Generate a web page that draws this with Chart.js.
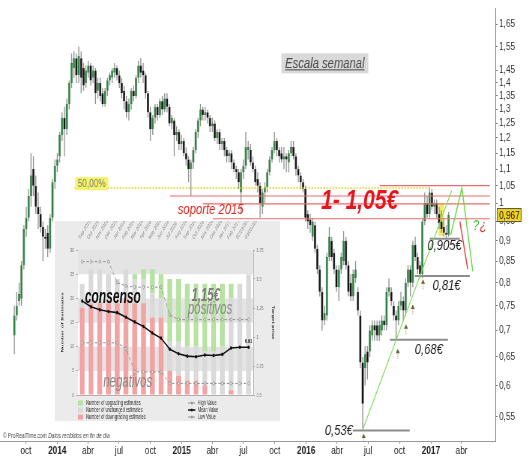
<!DOCTYPE html>
<html>
<head>
<meta charset="utf-8">
<script src="https://cdn.jsdelivr.net/npm/chart.js@4.4.1/dist/chart.umd.min.js"></script>
<style>
  html, body { margin: 0; padding: 0; background: #fff; }
  #wrap { position: relative; width: 532px; height: 457px; overflow: hidden; }
  /* la captura original esta comprimida en horizontal */
  #mainBox { position: absolute; left: 0; top: 0; width: 710px; height: 457px; transform: scaleX(0.7493); transform-origin: 0 0; }
  #insetBox { position: absolute; left: 55px; top: 221px; width: 375px; height: 200px; transform: scaleX(0.6); transform-origin: 0 0; }
</style>
</head>
<body>
<div id="wrap">
  <div id="mainBox"><canvas id="main" width="710" height="457"></canvas></div>
  <div id="insetBox"><canvas id="inset" width="375" height="200"></canvas></div>
</div>
<script>
const FONT = 'Arial, "Liberation Sans", Helvetica, sans-serif';
Chart.defaults.font.family = FONT;

// velas semanales (primera semana = lunes 26/08/2013)
const firstWeek = '2013-08-26';
const openP = [
  .69,.73,.76,.765,.84,.93,.96,1.02,1.10,1.05,
  .99,.97,.935,.91,.92,.88,.96,1.06,1.11,1.14,
  1.21,1.27,1.23,1.32,1.40,1.46,1.50,1.43,1.50,1.46,
  1.40,1.44,1.47,1.42,1.45,1.37,1.40,1.36,1.32,1.37,
  1.41,1.42,1.44,1.46,1.43,1.40,1.37,1.33,1.29,1.32,
  1.37,1.35,1.42,1.47,1.45,1.43,1.36,1.29,1.23,1.27,
  1.31,1.28,1.33,1.30,1.34,1.31,1.25,1.26,1.21,1.22,
  1.18,1.19,1.15,1.13,1.10,1.12,1.16,1.22,1.26,1.30,
  1.28,1.29,1.27,1.24,1.25,1.20,1.22,1.18,1.19,1.16,
  1.14,1.15,1.12,1.10,1.09,1.03,1.09,1.11,1.16,1.16,
  1.12,1.10,1.07,1.05,.99,1.03,1.045,1.09,1.13,1.16,
  1.19,1.16,1.15,1.13,1.14,1.12,1.15,1.17,1.14,1.10,
  1.08,1.06,1.04,.97,.955,.91,.94,.88,.83,.78,
  .72,.73,.86,.90,.87,.83,.79,.83,.85,.90,
  .84,.80,.77,.81,.78,.73,.64,.63,.66,.66,
  .69,.71,.71,.69,.70,.72,.71,.78,.78,.75,
  .73,.72,.75,.76,.74,.80,.83,.80,.89,.86,
  .84,.82,.95,1.00,.97,1.03,.99,1.00,.97,.95,
  .935,.92,.915
];
const highP = [
  .75,.78,.80,.85,.94,.99,1.04,1.15,1.14,1.08,
  1.03,.99,.95,.93,.94,.97,1.07,1.13,1.15,1.22,
  1.29,1.31,1.34,1.41,1.52,1.53,1.52,1.55,1.53,1.48,
  1.47,1.49,1.48,1.47,1.46,1.42,1.42,1.38,1.38,1.42,
  1.44,1.46,1.48,1.47,1.45,1.42,1.39,1.35,1.34,1.38,
  1.39,1.43,1.49,1.50,1.48,1.44,1.37,1.31,1.28,1.32,
  1.32,1.34,1.35,1.36,1.36,1.32,1.28,1.27,1.24,1.23,
  1.21,1.20,1.17,1.14,1.13,1.17,1.23,1.27,1.32,1.31,
  1.31,1.30,1.28,1.27,1.26,1.23,1.23,1.20,1.20,1.17,
  1.16,1.16,1.13,1.11,1.10,1.10,1.13,1.22,1.19,1.18,
  1.14,1.11,1.09,1.06,1.04,1.06,1.10,1.14,1.17,1.22,
  1.20,1.17,1.17,1.17,1.15,1.16,1.19,1.19,1.15,1.11,
  1.09,1.07,1.05,.98,.97,.96,.95,.89,.84,.79,
  .75,.87,.935,.91,.88,.84,.84,.87,.925,.91,
  .85,.82,.83,.85,.79,.74,.65,.67,.67,.71,
  .72,.72,.72,.72,.73,.73,.79,.81,.79,.76,
  .74,.76,.78,.77,.81,.84,.84,.90,.91,.87,
  .85,.96,1.03,1.02,1.045,1.04,1.01,1.01,.99,.98,
  .96,.94,.975
];
const lowP = [
  .655,.72,.75,.75,.83,.91,.95,.99,1.02,.97,
  .93,.92,.85,.88,.86,.87,.95,1.04,1.09,1.12,
  1.19,1.14,1.21,1.30,1.38,1.42,1.40,1.40,1.36,1.37,
  1.38,1.42,1.39,1.40,1.32,1.34,1.33,1.31,1.31,1.35,
  1.39,1.40,1.42,1.41,1.38,1.34,1.30,1.27,1.26,1.30,
  1.33,1.34,1.40,1.42,1.40,1.34,1.27,1.19,1.21,1.25,
  1.26,1.27,1.28,1.29,1.29,1.24,1.23,1.14,1.19,1.16,
  1.16,1.14,1.11,1.06,1.02,1.10,1.15,1.20,1.24,1.26,
  1.26,1.25,1.22,1.22,1.19,1.18,1.16,1.16,1.14,1.12,
  1.12,1.10,1.09,1.07,1.04,.97,1.07,1.10,1.13,1.11,
  1.09,1.05,1.03,.96,.97,1.00,1.03,1.08,1.12,1.15,
  1.14,1.12,1.12,1.10,1.09,1.09,1.14,1.13,1.08,1.06,
  1.04,1.03,.95,.93,.92,.90,.87,.82,.77,.70,
  .71,.72,.85,.85,.82,.78,.76,.82,.84,.83,
  .77,.76,.76,.80,.73,.63,.53,.60,.61,.65,
  .68,.68,.68,.68,.69,.70,.70,.77,.75,.72,
  .68,.71,.74,.72,.73,.79,.77,.79,.85,.82,
  .81,.81,.94,.96,.96,.98,.97,.96,.93,.92,
  .91,.905,.91
];
const closeP = [
  .73,.75,.775,.84,.93,.96,1.02,1.08,1.05,.99,
  .97,.935,.91,.905,.88,.96,1.06,1.11,1.13,1.21,
  1.27,1.23,1.32,1.40,1.48,1.50,1.43,1.51,1.42,1.39,
  1.45,1.47,1.41,1.45,1.36,1.40,1.35,1.32,1.37,1.41,
  1.43,1.45,1.46,1.43,1.40,1.36,1.33,1.29,1.32,1.37,
  1.35,1.42,1.47,1.44,1.43,1.36,1.29,1.23,1.27,1.31,
  1.28,1.33,1.30,1.34,1.31,1.25,1.27,1.21,1.22,1.18,
  1.19,1.15,1.13,1.10,1.12,1.16,1.22,1.26,1.30,1.28,
  1.29,1.27,1.24,1.25,1.20,1.22,1.18,1.19,1.16,1.14,
  1.15,1.12,1.10,1.09,1.06,1.09,1.11,1.17,1.17,1.12,
  1.10,1.06,1.05,1.00,1.03,1.045,1.09,1.13,1.16,1.19,
  1.16,1.14,1.13,1.14,1.13,1.15,1.17,1.14,1.10,1.08,
  1.06,1.04,.96,.95,.94,.95,.88,.83,.78,.72,
  .735,.86,.91,.86,.83,.79,.83,.86,.90,.84,
  .78,.77,.82,.83,.74,.64,.57,.655,.64,.70,
  .71,.70,.69,.71,.72,.71,.78,.79,.76,.73,
  .72,.75,.76,.74,.80,.83,.80,.89,.86,.83,
  .82,.95,1.00,.97,1.03,.99,1.00,.97,.945,.93,
  .92,.915,.967
];

// ejes del grafico principal
const yTicks = [1.65, 1.55, 1.45, 1.4, 1.35, 1.3, 1.25, 1.2, 1.15, 1.1, 1.05, 1, 0.95, 0.9, 0.85, 0.8, 0.75, 0.7, 0.65, 0.6, 0.55];
const xTickDates = ['2013-10-01', '2014-01-01', '2014-04-01', '2014-07-01', '2014-10-01', '2015-01-01', '2015-04-01', '2015-07-01',
  '2015-10-01', '2016-01-01', '2016-04-01', '2016-07-01', '2016-10-01', '2017-01-01', '2017-04-01'];
const xTickLabels = ['oct', '2014', 'abr', 'jul', 'oct', '2015', 'abr', 'jul', 'oct', '2016', 'abr', 'jul', 'oct', '2017', 'abr'];

// recuadro: estimaciones de analistas
const estMonths = ['Sep 2015', 'Oct 2015', 'Nov 2015', 'Dec 2015', 'Jan 2016', 'Feb 2016', 'Mar 2016', 'Apr 2016', 'May 2016', 'Jun 2016',
  'Jul 2016', 'Aug 2016', 'Sep 2016', 'Oct 2016', 'Nov 2016', 'Dec 2016', 'Jan 2017', 'Feb 2017', '02/23/2017', '03/03/2017'];
const downEst = [18, 19, 19, 19, 19, 20, 19, 19, 16, 16, 5, 4, 3, 3, 2, 0, 0, 1, 0, 0];
const unchEst = [5, 7, 7, 6, 5, 6, 5, 5, 5, 4, 6, 7, 7, 7, 7, 9, 10, 19, 23, 25];
const upEst = [0, 0, 0, 0, 0, 0, 1, 2, 5, 5, 13, 13, 13, 13, 14, 14, 13, 3, 0, 0];
const highTP = [1.65, 1.65, 1.65, 1.65, 1.47, 1.44, 1.43, 1.43, 1.43, 1.43, 1.19, 1.15, 1.15, 1.15, 1.15, 1.15, 1.15, 1.15, 1.15, 1.15];
const meanTP = [1.31, 1.26, 1.235, 1.22, 1.21, 1.17, 1.13, 1.09, 1.035, 0.99, 0.895, 0.855, 0.835, 0.83, 0.845, 0.84, 0.85, 0.905, 0.912, 0.912];
const lowTP = [0.95, 0.95, 0.95, 0.95, 0.95, 0.9, 0.7, 0.7, 0.7, 0.7, 0.6, 0.6, 0.6, 0.6, 0.6, 0.6, 0.6, 0.6, 0.6, 0.6];

const base = Date.UTC(2013, 6, 1);
const toDay = s => (Date.parse(s) - base) / 864e5;

// anotaciones dibujadas sobre el grafico (coordenadas fecha / precio)
const notes = {
  fib: { from: '2014-02-21', to: '2016-12-29', price: 1.043, label: '50,00%', date: '2014-04-12', at: 1.056 },
  red: [
    { from: '2016-08-04', price: 1.05 },
    { from: '2014-11-27', price: 1.02 },
    { from: '2015-03-04', price: 0.998 },
    { from: '2015-04-02', price: 0.957 }
  ],
  redEnd: '2017-06-23',
  levels: [
    { from: '2016-12-29', to: '2017-03-27', price: 0.905, text: '0,905€', date: '2017-02-10', at: 0.888 },
    { from: '2016-11-15', to: '2017-04-25', price: 0.815, text: '0,81€', date: '2017-02-16', at: 0.794 },
    { from: '2016-09-03', to: '2017-02-20', price: 0.682, text: '0,68€', date: '2016-12-26', at: 0.663 },
    { from: '2016-05-17', to: '2016-10-31', price: 0.529, text: '0,53€', date: '2016-04-06', at: 0.529 }
  ],
  trend: [['2016-06-15', 0.53], ['2017-03-03', 1.035]],
  upPath: [['2017-02-28', 0.914], ['2017-04-02', 1.043], ['2017-05-04', 0.826]],
  downPath: [['2017-03-27', 0.95], ['2017-04-19', 0.831]],
  arrows: [['2016-06-18', 0.5246], ['2016-09-26', 0.665], ['2016-10-20', 0.712], ['2016-11-09', 0.753], ['2016-12-09', 0.808]],
  box: { from: '2017-01-24', to: '2017-02-08', top: 0.998, bottom: 0.912 },
  title: { text: 'Escala semanal', date: '2016-02-25', at: 1.479 },
  support: { text: 'soporte 2015', date: '2015-03-27', at: 0.98 },
  zone: { text: '1- 1,05€', date: '2016-06-06', at: 1.005 },
  doubt: { date: '2017-05-04', at: 0.937 },
  last: 0.967
};

const day0 = toDay(firstWeek) + 2;
const candleX = closeP.map((c, i) => day0 + 7 * i);

const notesPlugin = {
  id: 'notes',
  beforeDatasetsDraw(chart) {
    const { ctx, scales: { x, y } } = chart;
    const b = notes.box;
    const x1 = x.getPixelForValue(toDay(b.from)), x2 = x.getPixelForValue(toDay(b.to));
    const y1 = y.getPixelForValue(b.top), y2 = y.getPixelForValue(b.bottom);
    ctx.save();
    ctx.fillStyle = '#f3ea5f';
    ctx.fillRect(x1, y1, x2 - x1, y2 - y1);
    ctx.restore();
  },
  afterDatasetsDraw(chart) {
    const { ctx, chartArea: area, scales: { x, y } } = chart;
    const X = d => x.getPixelForValue(toDay(d));
    const Y = v => y.getPixelForValue(v);
    const path = (pts, color, width, dash) => {
      ctx.beginPath();
      pts.forEach(([d, v], i) => i ? ctx.lineTo(X(d), Y(v)) : ctx.moveTo(X(d), Y(v)));
      ctx.strokeStyle = color;
      ctx.lineWidth = width;
      ctx.setLineDash(dash || []);
      ctx.stroke();
      ctx.setLineDash([]);
    };
    const text = (s, d, v, font, color, align) => {
      ctx.font = font + ' ' + FONT;
      ctx.fillStyle = color;
      ctx.textAlign = align || 'center';
      ctx.textBaseline = 'middle';
      ctx.fillText(s, X(d), Y(v));
    };

    ctx.save();
    ctx.beginPath();
    ctx.rect(area.left, area.top, area.width, area.height);
    ctx.clip();

    // lineas horizontales
    path([[notes.fib.from, notes.fib.price], [notes.fib.to, notes.fib.price]], '#e0d400', 1.6, [2, 2]);
    notes.red.forEach(r => path([[r.from, r.price], [notes.redEnd, r.price]], '#ee6b6b', 1.2));
    notes.levels.forEach(l => path([[l.from, l.price], [l.to, l.price]], '#8c8c8c', 2));

    // directriz y escenarios
    path(notes.trend, '#7ddf5a', 1.2);
    path(notes.upPath, '#66d847', 1.4);
    path(notes.downPath, '#e43b3b', 1.4);

    // flechas de apoyo
    notes.arrows.forEach(([d, v]) => {
      const ax = X(d), ay = Y(v);
      ctx.setLineDash([1, 1]);
      ctx.strokeStyle = '#8e8e66';
      ctx.lineWidth = 1;
      ctx.beginPath(); ctx.moveTo(ax, ay + 3); ctx.lineTo(ax, ay + 11); ctx.stroke();
      ctx.setLineDash([]);
      ctx.fillStyle = '#66642c';
      ctx.beginPath(); ctx.moveTo(ax, ay); ctx.lineTo(ax - 2.6, ay + 4.5); ctx.lineTo(ax + 2.6, ay + 4.5); ctx.closePath(); ctx.fill();
    });

    // etiqueta 50 %
    const fx = X(notes.fib.date), fy = Y(notes.fib.at);
    ctx.fillStyle = '#f5f36a';
    ctx.fillRect(fx - 22, fy - 6.5, 44, 13);
    text(notes.fib.label, notes.fib.date, notes.fib.at, '11px', '#7c7c7c');

    // titulo
    const tx = X(notes.title.date), ty = Y(notes.title.at);
    ctx.fillStyle = '#d9d9d9';
    ctx.fillRect(tx - 58, ty - 10, 116, 20);
    text(notes.title.text, notes.title.date, notes.title.at, 'italic 15px', '#4a4a4a');
    const tw = ctx.measureText(notes.title.text).width;
    ctx.fillRect(tx - tw / 2, ty + 6, tw, 1);

    text(notes.support.text, notes.support.date, notes.support.at, 'italic 15px', '#e0261e');
    text(notes.zone.text, notes.zone.date, notes.zone.at, 'italic bold 28px', '#e8141c');
    notes.levels.forEach(l => text(l.text, l.date, l.at, 'italic 15px', '#222'));

    text('?', notes.doubt.date, notes.doubt.at, 'italic 15px', '#3fbf3f', 'left');
    const qw = ctx.measureText('?').width;
    ctx.fillStyle = '#e03a3a';
    ctx.fillText('¿', X(notes.doubt.date) + qw + 1, Y(notes.doubt.at));

    // copyright
    ctx.textAlign = 'left';
    ctx.textBaseline = 'alphabetic';
    ctx.fillStyle = '#444';
    ctx.font = '6.5px ' + FONT;
    const c1 = '© ProRealTime.com ';
    ctx.fillText(c1, area.left + 4, area.bottom - 3);
    const cw = ctx.measureText(c1).width;
    ctx.font = 'italic 6.5px ' + FONT;
    ctx.fillText('Datos recibidos en fin de día', area.left + 4 + cw, area.bottom - 3);
    ctx.restore();
  },
  afterDraw(chart) {
    const { ctx, chartArea: area, scales: { y } } = chart;
    const py = y.getPixelForValue(notes.last);
    ctx.save();
    ctx.fillStyle = '#f2d41c';
    ctx.fillRect(area.right + 2, py - 7, 33, 14);
    ctx.strokeStyle = '#555';
    ctx.lineWidth = 1;
    ctx.strokeRect(area.right + 2.5, py - 6.5, 32, 13);
    ctx.fillStyle = '#111';
    ctx.font = '11px ' + FONT;
    ctx.textAlign = 'left';
    ctx.textBaseline = 'middle';
    ctx.fillText(String(notes.last).replace('.', ','), area.right + 5, py + 0.5);
    ctx.restore();
  }
};

new Chart(document.getElementById('main'), {
  type: 'bar',
  data: {
    datasets: [
      {
        label: 'cuerpo',
        data: candleX.map((d, i) => ({ x: d, y: [openP[i], closeP[i]] })),
        backgroundColor: closeP.map((c, i) => c >= openP[i] ? '#2c8442' : '#111'),
        borderColor: closeP.map((c, i) => c >= openP[i] ? '#1d4d28' : '#111'),
        borderWidth: 0.5,
        barThickness: 3.1, inflateAmount: 0, stack: 'vela', order: 0
      },
      {
        label: 'mecha',
        data: candleX.map((d, i) => ({ x: d, y: [lowP[i], highP[i]] })),
        backgroundColor: '#8f8f8f',
        barThickness: 1.3, inflateAmount: 0, stack: 'vela', order: 1
      }
    ]
  },
  options: {
    responsive: false,
    animation: false,
    devicePixelRatio: 1,
    events: [],
    layout: { padding: 0 },
    plugins: { legend: { display: false }, tooltip: { enabled: false } },
    scales: {
      x: {
        type: 'linear',
        bounds: 'data',
        offset: false,
        min: toDay('2013-07-17'),
        max: toDay('2017-07-09'),
        afterBuildTicks: s => { s.ticks = xTickDates.map(d => ({ value: toDay(d) })); },
        afterFit: s => { s.height = 16; },
        ticks: {
          autoSkip: false, maxRotation: 0, padding: 0, color: '#222',
          font: c => ({ size: 11, weight: /^\d{4}$/.test(xTickLabels[c.index]) ? 'bold' : 'normal' }),
          callback: (v, i) => xTickLabels[i]
        },
        grid: { drawOnChartArea: false, offset: false, tickLength: 3, color: '#999' },
        border: { color: '#999' }
      },
      y: {
        type: 'logarithmic',
        position: 'right',
        bounds: 'data',
        stacked: false,
        min: 0.5136,
        max: 1.724,
        afterBuildTicks: s => { s.ticks = yTicks.map(v => ({ value: v })); },
        afterFit: s => { s.width = 49; },
        ticks: { autoSkip: false, padding: 2, color: '#333', font: { size: 11 }, callback: v => String(v).replace('.', ',') },
        grid: { drawOnChartArea: false, tickLength: 3, color: '#777' },
        border: { color: '#888' }
      }
    }
  },
  plugins: [notesPlugin]
});

// ---------- recuadro de estimaciones ----------
const insetNotes = [
  { text: 'consenso', i: 3.5, v: 20.1, font: 'italic bold 20px', color: '#111' },
  { text: '1,15€', i: 14.1, v: 20.6, font: 'italic bold 19px', color: '#7d7d7d' },
  { text: 'positivos', i: 14.6, v: 17.9, font: 'italic 19px', color: '#8a8a8a' },
  { text: 'negativos', i: 5.2, v: 2.8, font: 'italic 19px', color: '#8a8a8a' }
];

const insetPlugin = {
  id: 'insetDeco',
  beforeDraw(chart) {
    const { ctx, width, height } = chart;
    ctx.save();
    ctx.fillStyle = '#ebebeb';
    ctx.fillRect(0, 0, width, height);
    ctx.restore();
  },
  beforeDatasetsDraw(chart) {
    const { ctx, chartArea: a, scales: { y } } = chart;
    ctx.save();
    for (let v = 0; v < 30; v += 5) {
      const y1 = y.getPixelForValue(v + 5), y2 = y.getPixelForValue(v);
      ctx.fillStyle = (v / 5) % 2 ? '#e4e4e4' : '#ffffff';
      ctx.fillRect(a.left, y1, a.right - a.left, y2 - y1);
    }
    ctx.restore();
  },
  afterDatasetsDraw(chart) {
    const { ctx, scales: { x, y, yR } } = chart;
    ctx.save();
    ctx.textAlign = 'center';
    ctx.textBaseline = 'middle';
    insetNotes.forEach(n => {
      ctx.font = n.font + ' ' + FONT;
      ctx.fillStyle = n.color;
      ctx.fillText(n.text, x.getPixelForValue(n.i), y.getPixelForValue(n.v));
    });
    const last = meanTP.length - 1;
    ctx.font = 'bold 6px ' + FONT;
    ctx.fillStyle = '#222';
    ctx.fillText(meanTP[last].toFixed(2), x.getPixelForValue(last), yR.getPixelForValue(meanTP[last]) - 6);
    ctx.restore();
  },
  afterDraw(chart) {
    const { ctx, chartArea: a } = chart;
    const ds = chart.data.datasets;
    ctx.save();
    ctx.font = '6.5px ' + FONT;
    ctx.textBaseline = 'middle';
    ctx.textAlign = 'left';
    [2, 1, 0].forEach((di, r) => {
      const yy = a.bottom + 8 + r * 7;
      ctx.fillStyle = ds[di].backgroundColor;
      ctx.fillRect(a.left, yy - 2.5, 9, 5);
      ctx.fillStyle = '#333';
      ctx.fillText(ds[di].label, a.left + 14, yy);
    });
    [3, 4, 5].forEach((di, r) => {
      const yy = a.bottom + 8 + r * 7;
      const lx = a.left + 184;
      ctx.strokeStyle = ds[di].borderColor;
      ctx.lineWidth = ds[di].borderWidth;
      ctx.setLineDash(ds[di].borderDash || []);
      ctx.beginPath(); ctx.moveTo(lx, yy); ctx.lineTo(lx + 12, yy); ctx.stroke();
      ctx.setLineDash([]);
      ctx.fillStyle = ds[di].pointBorderColor;
      ctx.beginPath(); ctx.arc(lx + 6, yy, 1.6, 0, Math.PI * 2); ctx.fill();
      ctx.fillStyle = '#333';
      ctx.fillText(ds[di].label, lx + 16, yy);
    });
    ctx.restore();
  }
};

const smallTicks = { size: 6 };
new Chart(document.getElementById('inset'), {
  type: 'bar',
  data: {
    labels: estMonths,
    datasets: [
      { label: 'Number of downgrading estimates', data: downEst, backgroundColor: '#f3a3a3', order: 2 },
      { label: 'Number of unchanged estimates', data: unchEst, backgroundColor: '#dadada', order: 2 },
      { label: 'Number of upgrading estimates', data: upEst, backgroundColor: '#b7e2a2', order: 2 },
      { type: 'line', label: 'High Value', data: highTP, yAxisID: 'yR', borderColor: '#8f8f8f', borderWidth: 1, borderDash: [4, 3],
        pointRadius: 1.6, pointBackgroundColor: '#e6e6e6', pointBorderColor: '#8f8f8f', pointBorderWidth: 0.8, order: 1 },
      { type: 'line', label: 'Mean Value', data: meanTP, yAxisID: 'yR', borderColor: '#111', borderWidth: 1.6,
        pointRadius: 1.8, pointBackgroundColor: '#111', pointBorderColor: '#111', pointBorderWidth: 0, order: 0 },
      { type: 'line', label: 'Low Value', data: lowTP, yAxisID: 'yR', borderColor: '#8f8f8f', borderWidth: 1, borderDash: [4, 3],
        pointRadius: 1.6, pointBackgroundColor: '#e6e6e6', pointBorderColor: '#8f8f8f', pointBorderWidth: 0.8, order: 1 }
    ]
  },
  options: {
    responsive: false,
    animation: false,
    devicePixelRatio: 1,
    events: [],
    layout: { padding: 0 },
    datasets: { bar: { barThickness: 8, inflateAmount: 0 } },
    plugins: { legend: { display: false }, tooltip: { enabled: false } },
    scales: {
      x: {
        stacked: true,
        grid: { display: false },
        border: { color: '#b0b0b0' },
        ticks: { display: false },
        afterFit: s => { s.height = 26; }
      },
      xTop: {
        type: 'category',
        position: 'top',
        labels: estMonths,
        grid: { display: false },
        border: { display: false },
        ticks: { font: smallTicks, color: '#8a8a8a', minRotation: 45, maxRotation: 45, autoSkip: false, padding: 1 },
        afterFit: s => { s.height = 29; }
      },
      y: {
        stacked: true,
        min: 0,
        max: 30,
        ticks: { stepSize: 5, font: smallTicks, color: '#777', padding: 3, callback: v => String(v) },
        grid: { drawOnChartArea: false, tickLength: 3, color: '#b0b0b0' },
        border: { color: '#b0b0b0' },
        title: { display: true, text: 'Number of Estimates', font: { size: 6, weight: 'bold' }, color: '#333', padding: { top: 9, bottom: 0 } },
        afterFit: s => { s.width = 38; }
      },
      yR: {
        position: 'right',
        min: 0.5,
        max: 1.75,
        ticks: { stepSize: 0.25, font: smallTicks, color: '#777', padding: 3, callback: v => String(v) },
        grid: { drawOnChartArea: false, tickLength: 3, color: '#b0b0b0' },
        border: { color: '#b0b0b0' },
        title: { display: true, text: 'Target price', font: { size: 6, weight: 'bold' }, color: '#333', padding: { top: 8, bottom: 0 } },
        afterFit: s => { s.width = 45; }
      }
    }
  },
  plugins: [insetPlugin]
});
</script>
</body>
</html>
